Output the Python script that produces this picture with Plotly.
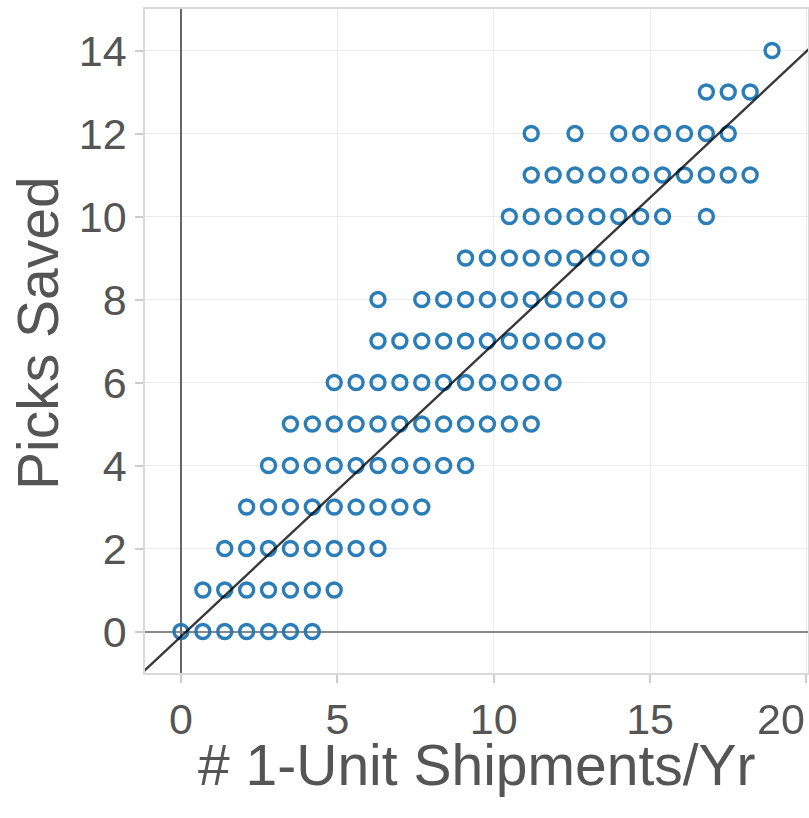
import plotly.graph_objects as go

# Picks Saved levels and the 1-unit shipments/yr values observed at each level
step = 0.7
picks_levels = [0, 1, 2, 3, 4, 5, 6, 7, 8, 9, 10, 11, 12, 13, 14]
shipments_idx = {
    0: [0, 1, 2, 3, 4, 5, 6],
    1: [1, 2, 3, 4, 5, 6, 7],
    2: [2, 3, 4, 5, 6, 7, 8, 9],
    3: [3, 4, 5, 6, 7, 8, 9, 10, 11],
    4: [4, 5, 6, 7, 8, 9, 10, 11, 12, 13],
    5: [5, 6, 7, 8, 9, 10, 11, 12, 13, 14, 15, 16],
    6: [7, 8, 9, 10, 11, 12, 13, 14, 15, 16, 17],
    7: [9, 10, 11, 12, 13, 14, 15, 16, 17, 18, 19],
    8: [9, 11, 12, 13, 14, 15, 16, 17, 18, 19, 20],
    9: [13, 14, 15, 16, 17, 18, 19, 20, 21],
    10: [15, 16, 17, 18, 19, 20, 21, 22, 24],
    11: [16, 17, 18, 19, 20, 21, 22, 23, 24, 25, 26],
    12: [16, 18, 20, 21, 22, 23, 24, 25],
    13: [24, 25, 26],
    14: [27],
}

x_vals = []
y_vals = []
for lvl in picks_levels:
    for k in shipments_idx[lvl]:
        x_vals.append(round(k * step, 2))
        y_vals.append(lvl)

# reference line
line_slope = 0.705
line_intercept = -0.12
line_x = [-1.5, 21]
line_y = [line_slope * v + line_intercept for v in line_x]

x_ticks = [0, 5, 10, 15, 20]
x_tick_labels = ["0", "5", "10", "15", ""]
last_x_tick = 20
last_x_label = "20"
y_ticks = [0, 2, 4, 6, 8, 10, 12, 14]

x_title = "# 1-Unit Shipments/Yr"
y_title = "Picks Saved"

fig = go.Figure()
fig.add_trace(go.Scatter(
    x=x_vals, y=y_vals, mode="markers",
    marker=dict(symbol="circle-open", size=14, color="#1f77b4",
                line=dict(width=3.4, color="#1f77b4")),
    opacity=0.95, showlegend=False, hoverinfo="skip"))
fig.add_trace(go.Scatter(
    x=line_x, y=line_y, mode="lines",
    line=dict(color="rgba(0,0,0,0.78)", width=2.4),
    showlegend=False, hoverinfo="skip"))

font_fam = "Liberation Sans, Arial, sans-serif"
tick_font = dict(size=43, color="#555555", family=font_fam)
axis_common = dict(
    showgrid=True, gridcolor="#ebebeb", gridwidth=1,
    showline=True, linecolor="#d9d9d9", linewidth=1.5, mirror=True,
    ticks="outside", ticklen=8, tickcolor="#cccccc", tickwidth=1.5,
    tickfont=tick_font,
    zeroline=True, automargin=False,
)
fig.update_layout(
    width=809, height=818,
    margin=dict(l=145, r=1, t=9, b=145),
    paper_bgcolor="white", plot_bgcolor="white",
    font=dict(family=font_fam, color="#555555"),
)
fig.update_xaxes(
    **axis_common, range=[-1.15, 20.05], tickvals=x_ticks, ticktext=x_tick_labels,
    zerolinecolor="#666666", zerolinewidth=1.5,
)
fig.update_yaxes(
    **axis_common, range=[-1, 15], tickvals=y_ticks,
    zerolinecolor="#888888", zerolinewidth=2,
)
# last x tick label kept inside the figure, right-aligned to its tick
fig.add_annotation(text=last_x_label, xref="x", yref="paper", x=last_x_tick, y=0,
                   xanchor="right", yanchor="middle", yshift=-46, showarrow=False,
                   borderpad=0, font=tick_font)
fig.add_annotation(text=x_title, xref="paper", yref="paper", x=0.5, y=0,
                   xanchor="center", yanchor="middle", yshift=-92, showarrow=False,
                   font=dict(size=57, color="#555555", family=font_fam))
fig.add_annotation(text=y_title, xref="paper", yref="paper", x=0, y=0.5,
                   xanchor="center", yanchor="middle", xshift=-107, yshift=8,
                   textangle=-90, showarrow=False,
                   font=dict(size=57, color="#555555", family=font_fam))

fig.write_html("out.html", config={"displayModeBar": False},
               post_script="document.body.style.margin='0';")
